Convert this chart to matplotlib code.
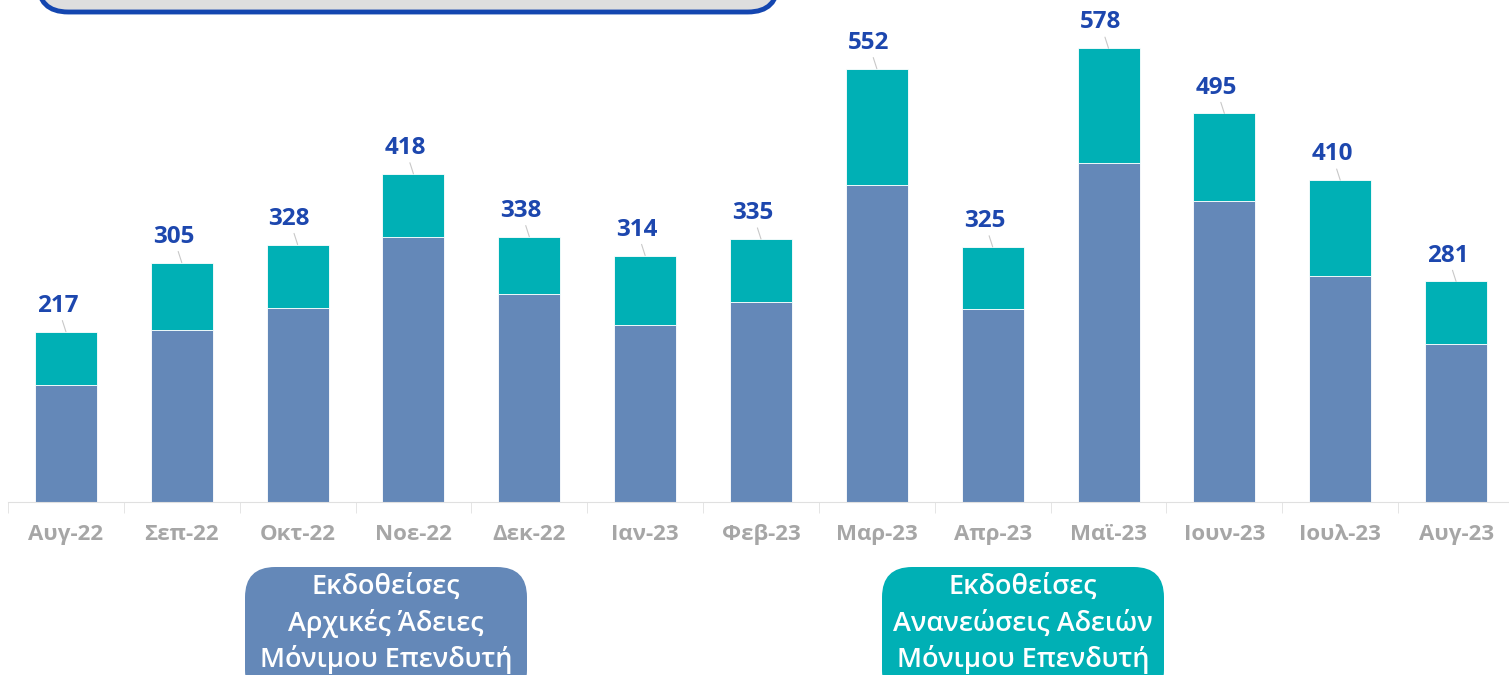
import matplotlib.pyplot as plt
import numpy as np
from matplotlib.patches import FancyBboxPatch

months = ['Αυγ-22', 'Σεπ-22', 'Οκτ-22', 'Νοε-22', 'Δεκ-22', 'Ιαν-23', 'Φεβ-23',
          'Μαρ-23', 'Απρ-23', 'Μαϊ-23', 'Ιουν-23', 'Ιουλ-23', 'Αυγ-23']
initial = [149, 219, 247, 338, 265, 225, 255, 404, 246, 432, 383, 288, 201]
totals = [217, 305, 328, 418, 338, 314, 335, 552, 325, 578, 495, 410, 281]
renewals = [t - i for t, i in zip(totals, initial)]

blue = '#6488B8'
teal = '#00B0B5'
label_blue = '#1D47AE'

plt.rcParams['font.family'] = ['Open Sans', 'DejaVu Sans']

fig = plt.figure(figsize=(15.09, 6.75), dpi=100)
ax = fig.add_axes([8 / 1509, 173 / 675, 1506 / 1509, 471 / 675])

x = np.arange(len(months))
ax.bar(x, initial, width=0.535, color=blue, edgecolor='white', linewidth=0.6)
ax.bar(x, renewals, width=0.535, bottom=initial, color=teal, edgecolor='white', linewidth=0.6)

ax.set_xlim(-0.5, len(months) - 0.5)
ax.set_ylim(0, 600)

# total labels with short leader lines
for xi, t in zip(x, totals):
    ax.annotate(str(t), xy=(xi, t), xytext=(-6, 10), textcoords='offset points',
                ha='center', va='bottom', fontsize=17.5, fontweight='bold', color=label_blue,
                arrowprops=dict(arrowstyle='-', color='#C8C8C8', lw=0.8, shrinkA=0, shrinkB=0))

for s in ['top', 'right', 'left']:
    ax.spines[s].set_visible(False)
ax.spines['bottom'].set_color('#E0E0E0')
ax.set_yticks([])
ax.set_xticks(x)
ax.set_xticklabels(months, fontsize=16, fontweight='bold', color='#A6A6A6')
ax.tick_params(axis='x', length=0, pad=16)
ax.set_xticks(np.arange(-0.5, len(months)), minor=True)
ax.tick_params(axis='x', which='minor', length=8, color='#E0E0E0')


def fig_box(x0, y0, x1, y1, color, edge=None, lw=0):
    w = (x1 - x0) / 1509
    h = (y1 - y0) / 675
    patch = FancyBboxPatch((x0 / 1509, (675 - y1) / 675), w, h,
                           boxstyle='round,pad=0,rounding_size=0.02',
                           transform=fig.transFigure, facecolor=color,
                           edgecolor=edge if edge else color, linewidth=lw,
                           mutation_aspect=1509 / 675, clip_on=False)
    fig.patches.append(patch)


# legend boxes
fig_box(245, 567, 527, 700, blue)
fig_box(882, 567, 1164, 700, teal)
for cx, lines in [(386, ['Εκδοθείσες', 'Αρχικές Άδειες', 'Μόνιμου Επενδυτή']),
                  (1023, ['Εκδοθείσες', 'Ανανεώσεις Αδειών', 'Μόνιμου Επενδυτή'])]:
    for yy, line in zip([587, 624, 659], lines):
        fig.text(cx / 1509, (675 - yy) / 675, line, ha='center', va='center',
                 fontsize=19.5, color='white', fontweight='semibold')

# title box cut off at the top
fig_box(38, -40, 778, 12, '#DEDEDE', edge='#1446B0', lw=3.5)

fig.savefig('out.png', dpi=100)
